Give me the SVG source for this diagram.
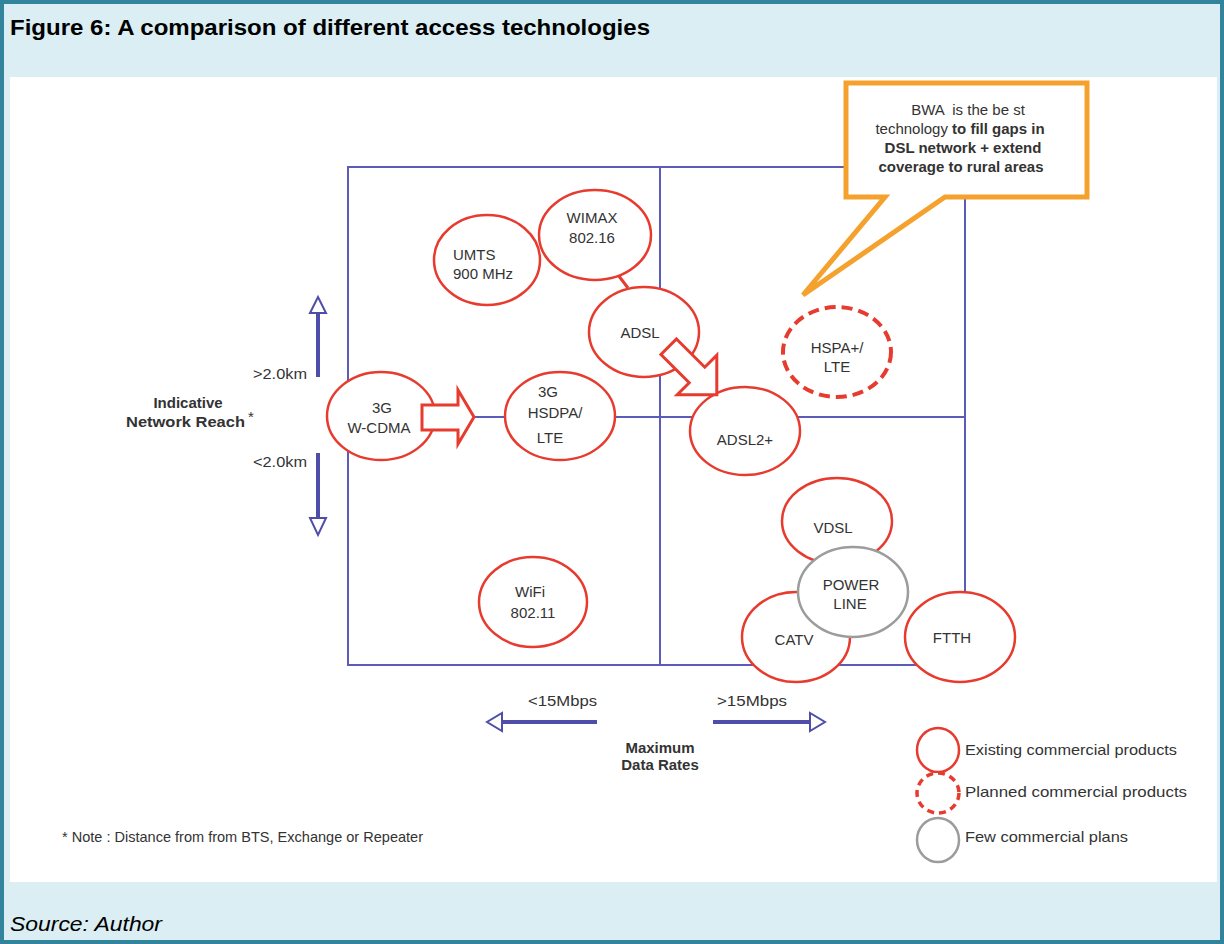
<svg xmlns="http://www.w3.org/2000/svg" width="1224" height="944" viewBox="0 0 1224 944">
<style>
.lbl{font-family:"Liberation Sans",Arial,sans-serif;font-size:15px;fill:#333;}
.mid{text-anchor:middle;}
.b{font-weight:bold;}
.ex{fill:#fff;stroke:#E63B2E;stroke-width:2.5;}
.pl{fill:#fff;stroke:#E63B2E;stroke-width:4;stroke-dasharray:11 6;}
.fw{fill:#fff;stroke:#9C9C9C;stroke-width:2.5;}
.grid{stroke:#5B5BB8;stroke-width:2;fill:none;}
.ax{stroke:#4E4EAA;stroke-width:4;}
.axh{fill:#fff;stroke:#4E4EAA;stroke-width:2;}
.harr{fill:#fff;stroke:#E63B2E;stroke-width:3;stroke-linejoin:miter;}
</style>
<!-- frame -->
<rect x="2" y="2" width="1220" height="940" fill="#DAEEF3" stroke="#31849B" stroke-width="4"/>
<rect x="10" y="77" width="1207" height="805" fill="#fff"/>
<text x="10" y="35" font-family="Liberation Sans,Arial,sans-serif" font-weight="bold" font-size="22" fill="#000" textLength="640" lengthAdjust="spacingAndGlyphs">Figure 6: A comparison of different access technologies</text>
<text x="10" y="931" font-family="Liberation Sans,Arial,sans-serif" font-style="italic" font-size="20" fill="#000" textLength="152" lengthAdjust="spacingAndGlyphs">Source: Author</text>

<!-- grid -->
<g id="grid" class="grid">
<rect x="348" y="167" width="617" height="498"/>
<line x1="660" y1="167" x2="660" y2="665"/>
<line x1="348" y1="417" x2="965" y2="417"/>
</g>

<!-- axes -->
<g id="axes">
<line class="ax" x1="318" y1="377" x2="318" y2="312"/>
<polygon class="axh" points="310,313 326,313 318,297"/>
<line class="ax" x1="318" y1="453" x2="318" y2="519"/>
<polygon class="axh" points="310,518 326,518 318,535"/>
<line class="ax" x1="597" y1="722" x2="501" y2="722"/>
<polygon class="axh" points="502,713 502,731 487,722"/>
<line class="ax" x1="713" y1="722" x2="811" y2="722"/>
<polygon class="axh" points="810,713 810,731 825,722"/>
<text class="lbl" x="253" y="379" textLength="54" lengthAdjust="spacingAndGlyphs">&gt;2.0km</text>
<text class="lbl" x="253" y="467" textLength="54" lengthAdjust="spacingAndGlyphs">&lt;2.0km</text>
<text class="lbl b mid" x="188" y="408">Indicative</text>
<text class="lbl b" x="126" y="427" textLength="119" lengthAdjust="spacingAndGlyphs">Network Reach</text>
<text class="lbl" x="248" y="422" font-size="10">*</text>
<text class="lbl" x="528" y="706" textLength="69" lengthAdjust="spacingAndGlyphs">&lt;15Mbps</text>
<text class="lbl" x="717" y="706" textLength="70" lengthAdjust="spacingAndGlyphs">&gt;15Mbps</text>
<text class="lbl b mid" x="660" y="753">Maximum</text>
<text class="lbl b mid" x="660" y="770">Data Rates</text>
</g>

<!-- connectors -->
<g id="connectors">
<line x1="612" y1="267" x2="628" y2="288" stroke="#E63B2E" stroke-width="3"/>
</g>

<!-- nodes -->
<g id="umts"><ellipse class="ex" cx="487" cy="260" rx="53" ry="45"/>
<text class="lbl" x="453" y="260">UMTS</text><text class="lbl" x="453" y="279">900 MHz</text></g>
<g id="wimax"><ellipse class="ex" cx="595" cy="235" rx="56" ry="45"/>
<text class="lbl mid" x="592" y="223">WIMAX</text><text class="lbl mid" x="592" y="243">802.16</text></g>
<g id="adsl"><ellipse class="ex" cx="644" cy="332" rx="55" ry="45"/>
<text class="lbl mid" x="640" y="338">ADSL</text></g>
<g id="wcdma"><ellipse class="ex" cx="381" cy="416" rx="54" ry="44"/>
<text class="lbl mid" x="382" y="413">3G</text><text class="lbl mid" x="379" y="433">W-CDMA</text></g>
<g id="hsdpa"><ellipse class="ex" cx="560" cy="416" rx="55" ry="44"/>
<text class="lbl mid" x="548" y="397">3G</text><text class="lbl mid" x="555" y="418">HSDPA/</text><text class="lbl mid" x="550" y="443">LTE</text></g>
<g id="adsl2"><ellipse class="ex" cx="745" cy="431" rx="55" ry="44"/>
<text class="lbl mid" x="745" y="445">ADSL2+</text></g>
<g id="hspa"><ellipse class="pl" cx="837" cy="352" rx="54" ry="45"/>
<text class="lbl mid" x="837" y="353">HSPA+/</text><text class="lbl mid" x="837" y="372">LTE</text></g>
<g id="wifi"><ellipse class="ex" cx="533" cy="602" rx="54" ry="45"/>
<text class="lbl mid" x="530" y="597">WiFi</text><text class="lbl mid" x="533" y="618">802.11</text></g>
<g id="vdsl"><ellipse class="ex" cx="837" cy="521" rx="55" ry="43"/>
<text class="lbl mid" x="833" y="533">VDSL</text></g>
<g id="catv"><ellipse class="ex" cx="796" cy="637" rx="54" ry="45"/>
<text class="lbl mid" x="794" y="645">CATV</text></g>
<g id="powerline"><ellipse class="fw" cx="853" cy="592" rx="55" ry="45"/>
<text class="lbl mid" x="851" y="590">POWER</text><text class="lbl mid" x="850" y="609">LINE</text></g>
<g id="ftth"><ellipse class="ex" cx="960" cy="637" rx="55" ry="45"/>
<text class="lbl mid" x="952" y="643">FTTH</text></g>

<!-- transition arrows -->
<g id="arrows">
<path class="harr" d="M422,405 H458 V390 L474,417 L458,444 V430 H422 Z"/>
<path class="harr" transform="translate(697,375) rotate(45)" d="M-40,-11 H0 V-28 L28,0 L0,28 V11 H-40 Z"/>
</g>

<!-- callout -->
<g id="callout">
<path d="M846,83 H1087 V197 H945 L803,295 L885,197 H846 Z" fill="#fff" stroke="#F5A12E" stroke-width="5" stroke-linejoin="miter"/>
<text class="lbl mid" x="968" y="115" xml:space="preserve">BWA  is the be st</text>
<text class="lbl mid" x="960" y="134">technology <tspan class="b">to fill gaps in</tspan></text>
<text class="lbl b mid" x="963" y="153">DSL network + extend</text>
<text class="lbl b mid" x="961" y="172">coverage to rural areas</text>
</g>

<!-- legend -->
<g id="legend">
<ellipse class="ex" cx="938" cy="750" rx="21" ry="22"/>
<ellipse class="pl" cx="938" cy="793" rx="21" ry="20" style="stroke-dasharray:7 5;stroke-width:3.5"/>
<ellipse class="fw" cx="938" cy="840" rx="21" ry="22"/>
<text class="lbl" x="965" y="755" font-size="14" textLength="212" lengthAdjust="spacingAndGlyphs">Existing commercial products</text>
<text class="lbl" x="965" y="797" font-size="14" textLength="222" lengthAdjust="spacingAndGlyphs">Planned commercial products</text>
<text class="lbl" x="965" y="842" font-size="14" textLength="163" lengthAdjust="spacingAndGlyphs">Few commercial plans</text>
</g>

<text id="note" class="lbl" x="62" y="842" font-size="13" textLength="361" lengthAdjust="spacingAndGlyphs">*  Note : Distance from from BTS, Exchange or Repeater</text>
</svg>
